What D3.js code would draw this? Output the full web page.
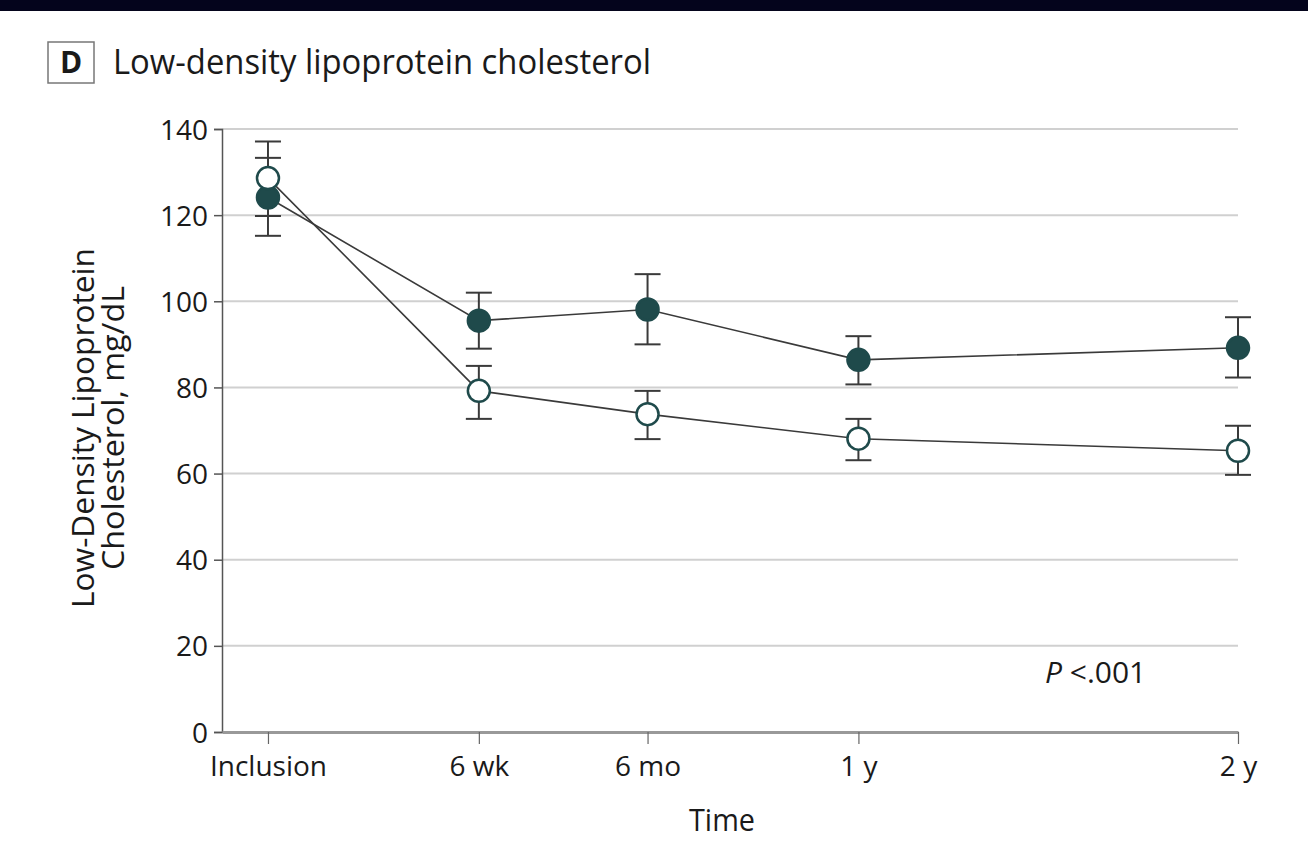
<!DOCTYPE html>
<html>
<head>
<meta charset="utf-8">
<script src="https://cdn.jsdelivr.net/npm/d3@7"></script>
<style>
  body { margin: 0; background: #fff; }
  text { font-family: "Open Sans", "Noto Sans", sans-serif; fill: #1a1a1a; }
</style>
</head>
<body>
<div class="chart"></div>
<script>
// time points and where they sit along the axis (axis units, not pixels)
var timeLabels = ["Inclusion", "6 wk", "6 mo", "1 y", "2 y"];
var timePos = [0, 1, 1.8, 2.8, 4.6];

// filled circles
var filledMean = [124.1, 95.5, 98.1, 86.4, 89.2];
var filledHigh = [133.3, 102.0, 106.3, 91.9, 96.3];
var filledLow = [115.2, 89.0, 90.0, 80.7, 82.3];

// open circles
var openMean = [128.6, 79.2, 73.8, 68.1, 65.3];
var openHigh = [137.1, 85.0, 79.2, 72.7, 71.1];
var openLow = [119.8, 72.7, 68.0, 63.1, 59.7];

var yTicks = [0, 20, 40, 60, 80, 100, 120, 140];

var svgWidth = 1308;
var svgHeight = 852;

var svg = d3.select(".chart")
    .append("svg")
    .attr("width", svgWidth)
    .attr("height", svgHeight);

// dark band at the top
svg.append("rect")
    .attr("x", 0).attr("y", 0)
    .attr("width", svgWidth).attr("height", 11)
    .attr("fill", "#04041c");

// panel label + title
svg.append("rect")
    .attr("x", 48).attr("y", 42)
    .attr("width", 46).attr("height", 41)
    .attr("fill", "#fff")
    .attr("stroke", "#777")
    .attr("stroke-width", 1.5);

svg.append("text")
    .attr("x", 71).attr("y", 73)
    .attr("text-anchor", "middle")
    .style("font-size", "30px")
    .style("font-weight", "bold")
    .text("D");

svg.append("text")
    .attr("x", 113).attr("y", 74)
    .attr("textLength", 538)
    .attr("lengthAdjust", "spacingAndGlyphs")
    .style("font-size", "35px")
    .text("Low-density lipoprotein cholesterol");

// scales
var x = d3.scaleLinear()
    .domain([-0.218, 4.6])
    .range([222, 1238]);

var y = d3.scaleLinear()
    .domain([0, 140])
    .range([732, 129]);

// gridlines
svg.append("g")
    .selectAll("line")
    .data(yTicks.filter(d => d > 0))
    .enter()
    .append("line")
    .attr("x1", x(-0.218))
    .attr("x2", x(4.6))
    .attr("y1", d => y(d))
    .attr("y2", d => y(d))
    .attr("stroke", "#d0d0d0")
    .attr("stroke-width", 2);

// y axis
var yAxis = d3.axisLeft(y).tickValues(yTicks).tickSize(8).tickPadding(6);
var yAxisG = svg.append("g")
    .attr("transform", `translate(${x(-0.218)},0)`)
    .call(yAxis);
yAxisG.select(".domain").attr("stroke", "#555").attr("stroke-width", 1.5);
yAxisG.selectAll(".tick line").attr("stroke", "#555").attr("stroke-width", 1.5);
yAxisG.selectAll(".tick text")
    .style("font-size", "28px")
    .attr("fill", "#1a1a1a")
    .attr("dy", "0.36em");

// x axis
var xAxis = d3.axisBottom(x)
    .tickValues(timePos)
    .tickFormat((d, i) => timeLabels[i])
    .tickSize(12)
    .tickSizeOuter(0)
    .tickPadding(12);
var xAxisG = svg.append("g")
    .attr("transform", `translate(0,${y(0)})`)
    .call(xAxis);
xAxisG.select(".domain").attr("stroke", "#999").attr("stroke-width", 3);
xAxisG.selectAll(".tick line").attr("stroke", "#666").attr("stroke-width", 1.2);
xAxisG.selectAll(".tick text")
    .style("font-size", "28px")
    .attr("fill", "#1a1a1a");

// axis titles
svg.append("text")
    .attr("x", 722).attr("y", 831)
    .attr("text-anchor", "middle")
    .style("font-size", "31px")
    .attr("textLength", 66)
    .attr("lengthAdjust", "spacingAndGlyphs")
    .text("Time");

var yLab = svg.append("g")
    .attr("transform", "translate(0,428) rotate(-90)");
yLab.append("text")
    .attr("x", 0).attr("y", 94)
    .attr("text-anchor", "middle")
    .style("font-size", "31px")
    .attr("textLength", 360)
    .attr("lengthAdjust", "spacingAndGlyphs")
    .text("Low-Density Lipoprotein");
yLab.append("text")
    .attr("x", 0).attr("y", 124)
    .attr("text-anchor", "middle")
    .style("font-size", "31px")
    .attr("textLength", 284)
    .attr("lengthAdjust", "spacingAndGlyphs")
    .text("Cholesterol, mg/dL");

// P value
var pText = svg.append("text")
    .attr("x", 1045).attr("y", 683)
    .style("font-size", "30px");
pText.append("tspan").style("font-style", "italic").text("P");
pText.append("tspan").text(" <.001");

// series
var series = [
    { mean: filledMean, high: filledHigh, low: filledLow, fill: "#1f4a4b" },
    { mean: openMean, high: openHigh, low: openLow, fill: "#ffffff" }
];

var line = d3.line()
    .x((d, i) => x(timePos[i]))
    .y(d => y(d));

series.forEach(function (s) {
    svg.append("path")
        .datum(s.mean)
        .attr("d", line)
        .attr("fill", "none")
        .attr("stroke", "#3a3a3a")
        .attr("stroke-width", 1.6);
});

series.forEach(function (s) {
    var g = svg.append("g");
    timePos.forEach(function (t, i) {
        g.append("line")
            .attr("x1", x(t)).attr("x2", x(t))
            .attr("y1", y(s.low[i])).attr("y2", y(s.high[i]))
            .attr("stroke", "#3a3a3a").attr("stroke-width", 2);
        [s.low[i], s.high[i]].forEach(function (v) {
            g.append("line")
                .attr("x1", x(t) - 13).attr("x2", x(t) + 13)
                .attr("y1", y(v)).attr("y2", y(v))
                .attr("stroke", "#3a3a3a").attr("stroke-width", 2);
        });
    });
});

series.forEach(function (s) {
    svg.append("g")
        .selectAll("circle")
        .data(s.mean)
        .enter()
        .append("circle")
        .attr("cx", (d, i) => x(timePos[i]))
        .attr("cy", d => y(d))
        .attr("r", 11)
        .attr("fill", s.fill)
        .attr("stroke", "#1f4a4b")
        .attr("stroke-width", 2.5);
});
</script>
</body>
</html>
